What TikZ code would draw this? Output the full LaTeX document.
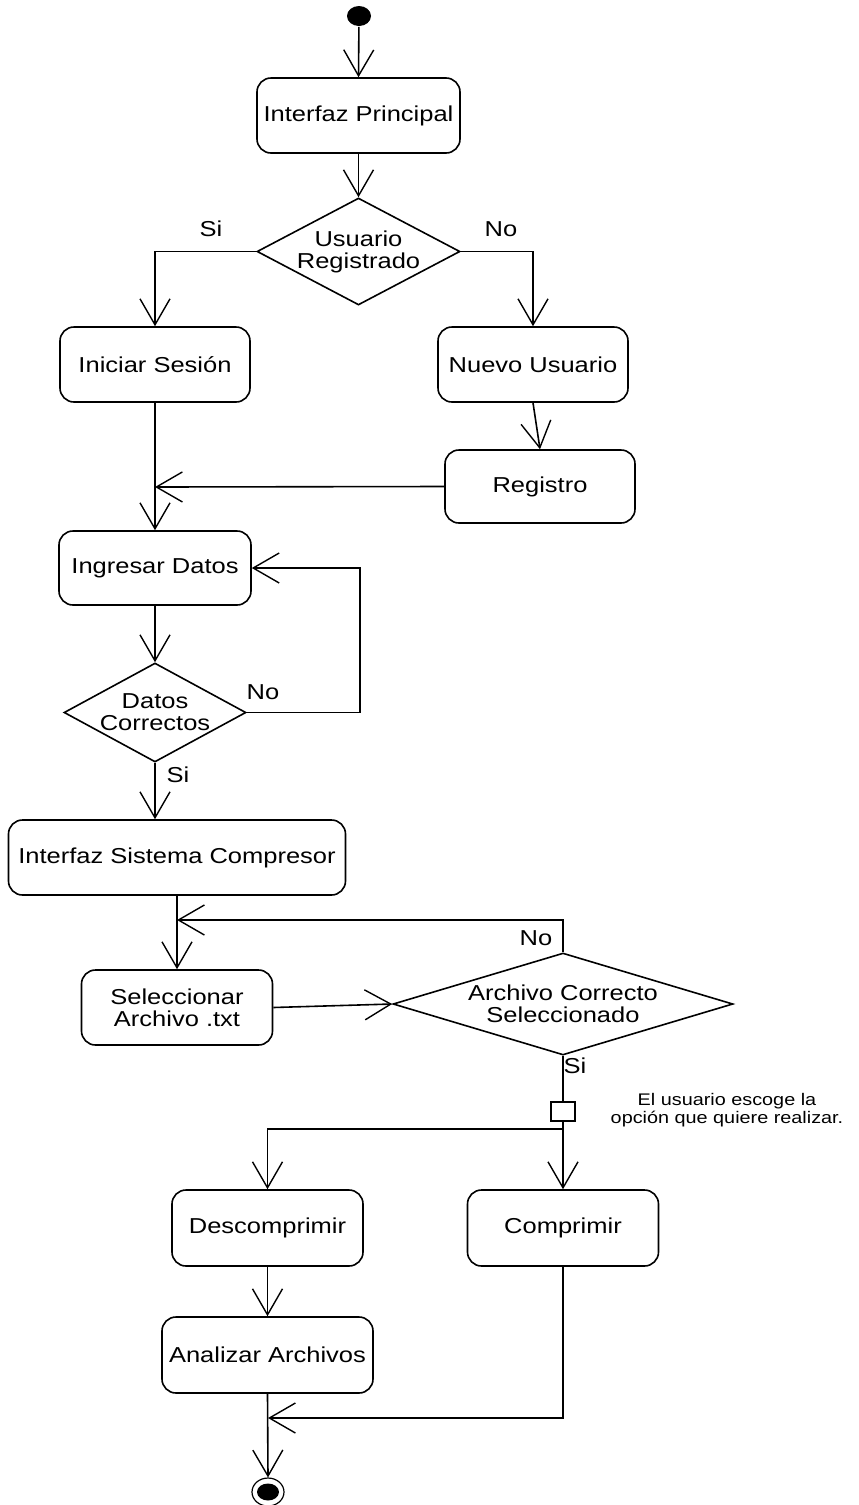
\documentclass[tikz,border=0pt]{standalone}
\usepackage{fontspec}
\setmainfont{Liberation Sans}[FakeStretch=1.18]
\usetikzlibrary{arrows.meta,shapes.geometric}

\begin{document}
\begin{tikzpicture}[x=1pt,y=-1pt,
  font=\fontsize{21.6}{22}\selectfont,
  line width=1.6pt,
  act/.style={draw, rounded corners=14pt, inner sep=0pt, align=center, fill=white},
  dec/.style={draw, diamond, inner sep=0pt, fill=white},
  flow/.style={-{Straight Barb[length=26pt,width=30pt,line width=1.4pt]}},
  guard/.style={inner sep=0pt},
  note/.style={align=center, font=\fontsize{16.8}{18}\selectfont}]

% canvas
\fill[white] (0,0) rectangle (859,1505);
\path[use as bounding box] (0,0) rectangle (859,1505);

% initial and final states
\node[ellipse, fill=black, minimum width=24pt, minimum height=20pt, inner sep=0pt] (start) at (359,16) {};
\node[ellipse, draw, line width=1.2pt, minimum width=32pt, minimum height=28pt, inner sep=0pt] (end) at (268,1492) {};
\node[ellipse, fill=black, minimum width=22pt, minimum height=17pt, inner sep=0pt] (endin) at (268,1492) {};

% activities
\node[act, minimum width=203pt, minimum height=75pt] (ip) at (358.5,115.5) {Interfaz Principal};
\node[act, minimum width=190pt, minimum height=75pt] (is) at (155,364.5) {Iniciar Sesión};
\node[act, minimum width=190pt, minimum height=75pt] (nu) at (533,364.5) {Nuevo Usuario};
\node[act, minimum width=190pt, minimum height=73pt] (reg) at (540,486.5) {Registro};
\node[act, minimum width=192pt, minimum height=74pt] (id) at (155,568) {Ingresar Datos};
\node[act, minimum width=337pt, minimum height=75pt] (isc) at (177,857.5) {Interfaz Sistema Compresor};
\node[act, minimum width=191pt, minimum height=75pt] (sel) at (177,1007.5) {Seleccionar\\Archivo .txt};
\node[act, minimum width=191pt, minimum height=76pt] (desc) at (267.5,1228) {Descomprimir};
\node[act, minimum width=191pt, minimum height=76pt] (comp) at (563,1228) {Comprimir};
\node[act, minimum width=211pt, minimum height=76pt] (aa) at (267.5,1355) {Analizar Archivos};

% decisions
\node[dec, minimum width=203pt, minimum height=107pt,
  label={[align=center]center:Usuario\\Registrado}] (ur) at (358.5,251.5) {};
\node[dec, minimum width=182pt, minimum height=99pt,
  label={[align=center]center:Datos\\Correctos}] (dc) at (155,712.5) {};
\node[dec, minimum width=340pt, minimum height=102pt,
  label={[align=center]center:Archivo Correcto\\Seleccionado}] (acs) at (563,1004) {};

% fork marker
\node[draw, fill=white, minimum width=24pt, minimum height=19pt, inner sep=0pt] (fork) at (563,1111.5) {};

% junction points
\coordinate (jreg) at (155,487);
\coordinate (jsel) at (177,920);
\coordinate (split) at (563,1129);
\coordinate (jend) at (268,1418);

% connectors
\draw[flow] (start) -- (ip.north);
\draw[flow] (ip.south) -- (ur.north);
\draw[flow] (ur.west) -| (is.north);
\draw[flow] (ur.east) -| (nu.north);
\draw[flow] (nu.south) -- (reg.north);
\draw[flow] (is.south) -- (id.north);
\draw[flow] (reg.west) -- (jreg);
\draw[flow] (id.south) -- (dc.north);
\draw[flow] (dc.east) -- ++(113,0) |- (id.east);
\draw[flow] (dc.south) -- (dc.south |- isc.north);
\draw[flow] (isc.south) -- (sel.north);
\draw[flow] (acs.north) |- (jsel);
\draw[flow] (sel.east) -- (acs.west);
\draw (acs.south) -- (fork.north);
\draw[flow] (fork.south) -- (comp.north);
\draw[flow] (split) -| (desc.north);
\draw[flow] (desc.south) -- (aa.north);
\draw[flow] (comp.south) |- (jend);
\draw[flow] (aa.south) -- (end.north);

% guards
\node[guard] (g1) at (211,229) {Si};
\node[guard] (g2) at (501,229) {No};
\node[guard] (g3) at (263,692) {No};
\node[guard] (g4) at (178,775) {Si};
\node[guard] (g5) at (536,938) {No};
\node[guard] (g6) at (575,1066) {Si};

% note
\node[note] (n1) at (727,1110) {El usuario escoge la\\opción que quiere realizar.};
\end{tikzpicture}
\end{document}
